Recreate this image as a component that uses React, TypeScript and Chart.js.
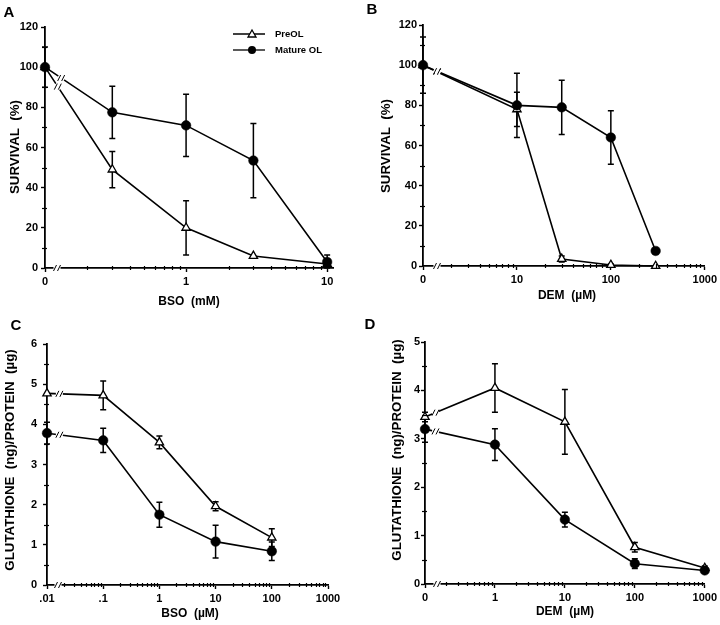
import React, { useEffect, useRef } from "react";
import { Chart, registerables } from "chart.js";

Chart.register(...registerables);

// ---------------- Data ----------------
// Panel A: survival (%) vs BSO (mM)
const aDoses = [0, 0.3, 1, 3, 10];
const aPreOL = [100, 49, 20, 6, 2];
const aPreOLErr = [0, 9, 13.5, 0, 0];
const aMature = [100, 77.5, 71, 53.5, 3];
const aMatureErr = [10, 13, 15.5, 18.5, 3.5];
const aXTickValues = [0, 1, 10];
const aXTickLabels = ["0", "1", "10"];
const aYTickValues = [0, 20, 40, 60, 80, 100, 120];

// Panel B: survival (%) vs DEM (µM)
const bDoses = [0, 10, 30, 100, 300];
const bPreOL = [100, 78, 3.5, 0.5, 0];
const bPreOLErr = [0, 8.5, 1.5, 0.5, 0];
const bMature = [100, 80, 79, 64, 7.5];
const bMatureErr = [14, 16, 13.5, 13.3, 1];
const bXTickValues = [0, 10, 100, 1000];
const bXTickLabels = ["0", "10", "100", "1000"];
const bYTickValues = [0, 20, 40, 60, 80, 100, 120];

// Panel C: glutathione (ng)/protein (µg) vs BSO (µM)
const cDoses = [0.01, 0.1, 1, 10, 100];
const cPreOL = [4.77, 4.72, 3.55, 1.96, 1.18];
const cPreOLErr = [0, 0.36, 0.16, 0.11, 0.22];
const cMature = [3.78, 3.6, 1.75, 1.08, 0.84];
const cMatureErr = [0.27, 0.3, 0.31, 0.41, 0.23];
const cXTickValues = [0.01, 0.1, 1, 10, 100, 1000];
const cXTickLabels = [".01", ".1", "1", "10", "100", "1000"];
const cYTickValues = [0, 1, 2, 3, 4, 5, 6];

// Panel D: glutathione (ng)/protein (µg) vs DEM (µM)
const dDoses = [0, 1, 10, 100, 1000];
const dPreOL = [3.45, 4.05, 3.35, 0.76, 0.33];
const dPreOLErr = [0.1, 0.5, 0.67, 0.1, 0.04];
const dMature = [3.2, 2.88, 1.33, 0.42, 0.28];
const dMatureErr = [0.27, 0.33, 0.15, 0.1, 0.04];
const dXTickValues = [0, 1, 10, 100, 1000];
const dXTickLabels = ["0", "1", "10", "100", "1000"];
const dYTickValues = [0, 1, 2, 3, 4, 5];

const seriesNames = ["PreOL", "Mature OL"];

// ---------------- Layout / style ----------------
const FONT = '"Liberation Sans", Arial, Helvetica, sans-serif';

type Panel = {
  letter: string;
  left: number;
  top: number;
  w: number;
  h: number;
  chartLeft: number;
  chartTop: number;
  chartRight: number;
  chartBottom: number;
  zeroPos: number;
  xMax: number;
  doses: number[];
  pre: number[];
  preErr: number[];
  mat: number[];
  matErr: number[];
  xTicks: number[];
  xLabels: string[];
  yTicks: number[];
  yMinorStep: number;
  yPad: number;
  axisBreakDx: number;
  lineBreakF: number[];
  yTitle: string;
  xTitle: string;
  letterPos: [number, number];
  yTitlePos: [number, number];
  xTitlePos: [number, number];
  legend: boolean;
};

const PANELS: Panel[] = [
  {
    letter: "A", left: 0, top: 0, w: 360, h: 312,
    chartLeft: 45, chartTop: 27, chartRight: 333, chartBottom: 268,
    zeroPos: 0.1, xMax: 11,
    doses: aDoses, pre: aPreOL, preErr: aPreOLErr, mat: aMature, matErr: aMatureErr,
    xTicks: aXTickValues, xLabels: aXTickLabels, yTicks: aYTickValues, yMinorStep: 10, yPad: 3,
    axisBreakDx: 12, lineBreakF: [0.19, 0.24],
    yTitle: "SURVIVAL  (%)", xTitle: "BSO  (mM)",
    letterPos: [9, 13], yTitlePos: [15, 147], xTitlePos: [189, 302], legend: true,
  },
  {
    letter: "B", left: 360, top: 0, w: 360, h: 312,
    chartLeft: 63, chartTop: 25, chartRight: 346, chartBottom: 266,
    zeroPos: 1, xMax: 1000,
    doses: bDoses, pre: bPreOL, preErr: bPreOLErr, mat: bMature, matErr: bMatureErr,
    xTicks: bXTickValues, xLabels: bXTickLabels, yTicks: bYTickValues, yMinorStep: 10, yPad: 2,
    axisBreakDx: 14, lineBreakF: [0.15, 0.15],
    yTitle: "SURVIVAL  (%)", xTitle: "DEM  (\u00b5M)",
    letterPos: [12, 10], yTitlePos: [26, 146], xTitlePos: [207, 296], legend: false,
  },
  {
    letter: "C", left: 0, top: 312, w: 360, h: 313,
    chartLeft: 47, chartTop: 32, chartRight: 328, chartBottom: 273,
    zeroPos: 0.01, xMax: 1000,
    doses: cDoses, pre: cPreOL, preErr: cPreOLErr, mat: cMature, matErr: cMatureErr,
    xTicks: cXTickValues, xLabels: cXTickLabels, yTicks: cYTickValues, yMinorStep: 0.5, yPad: 6,
    axisBreakDx: 11, lineBreakF: [0.22, 0.22],
    yTitle: "GLUTATHIONE  (ng)/PROTEIN  (\u00b5g)", xTitle: "BSO  (\u00b5M)",
    letterPos: [16, 14], yTitlePos: [10, 148], xTitlePos: [190, 302], legend: false,
  },
  {
    letter: "D", left: 360, top: 312, w: 360, h: 313,
    chartLeft: 65, chartTop: 30, chartRight: 347, chartBottom: 272,
    zeroPos: 0.1, xMax: 1000,
    doses: dDoses, pre: dPreOL, preErr: dPreOLErr, mat: dMature, matErr: dMatureErr,
    xTicks: dXTickValues, xLabels: dXTickLabels, yTicks: dYTickValues, yMinorStep: 0.5, yPad: 1,
    axisBreakDx: 12, lineBreakF: [0.15, 0.15],
    yTitle: "GLUTATHIONE  (ng)/PROTEIN  (\u00b5g)", xTitle: "DEM  (\u00b5M)",
    letterPos: [10, 13], yTitlePos: [37, 138], xTitlePos: [205, 300], legend: false,
  },
];

const xPos = (p: Panel, d: number) => (d === 0 ? p.zeroPos : d);

function logMinors(min: number, max: number): number[] {
  const out: number[] = [];
  const e0 = Math.floor(Math.log10(min));
  const e1 = Math.ceil(Math.log10(max));
  for (let e = e0; e <= e1; e++) {
    for (let k = 2; k <= 9; k++) {
      const v = k * Math.pow(10, e);
      if (v > min * 1.0001 && v < max * 0.9999) out.push(v);
    }
  }
  return out;
}

function drawSlashes(ctx: CanvasRenderingContext2D, x: number, y: number, angle: number) {
  ctx.save();
  ctx.translate(x, y);
  ctx.rotate(angle);
  ctx.fillStyle = "#fff";
  ctx.fillRect(-3.5, -2.5, 7, 5);
  ctx.restore();
  ctx.save();
  ctx.strokeStyle = "#000";
  ctx.lineWidth = 1;
  for (const dx of [-2, 2]) {
    ctx.beginPath();
    ctx.moveTo(x + dx - 1.5, y + 3);
    ctx.lineTo(x + dx + 1.5, y - 3);
    ctx.stroke();
  }
  ctx.restore();
}

function makePlugin(p: Panel) {
  return {
    id: "decor" + p.letter,
    beforeDatasetsDraw(chart: any) {
      const ctx: CanvasRenderingContext2D = chart.ctx;
      const xs = chart.scales.x;
      const ys = chart.scales.y;
      const sets = [
        { v: p.pre, e: p.preErr },
        { v: p.mat, e: p.matErr },
      ];
      ctx.save();
      ctx.strokeStyle = "#000";
      ctx.lineWidth = 1.5;
      for (const s of sets) {
        s.v.forEach((val, i) => {
          const err = s.e[i];
          if (!err) return;
          const px = xs.getPixelForValue(xPos(p, p.doses[i]));
          const y1 = ys.getPixelForValue(val + err);
          const y2 = ys.getPixelForValue(Math.max(0, val - err));
          ctx.beginPath();
          ctx.moveTo(px, y1);
          ctx.lineTo(px, y2);
          ctx.moveTo(px - 3, y1);
          ctx.lineTo(px + 3, y1);
          ctx.moveTo(px - 3, y2);
          ctx.lineTo(px + 3, y2);
          ctx.stroke();
        });
      }
      ctx.restore();
    },
    afterDatasetsDraw(chart: any) {
      const ctx: CanvasRenderingContext2D = chart.ctx;
      [0, 1].forEach((di) => {
        const meta = chart.getDatasetMeta(di);
        const a = meta.data[0];
        const b = meta.data[1];
        const f = p.lineBreakF[di];
        const x = a.x + (b.x - a.x) * f;
        const y = a.y + (b.y - a.y) * f;
        drawSlashes(ctx, x, y, Math.atan2(b.y - a.y, b.x - a.x));
      });
    },
    afterDraw(chart: any) {
      const ctx: CanvasRenderingContext2D = chart.ctx;
      const xs = chart.scales.x;
      const ys = chart.scales.y;
      const area = chart.chartArea;
      ctx.save();
      ctx.strokeStyle = "#000";
      ctx.lineWidth = 1.2;
      // minor x ticks
      for (const v of logMinors(p.zeroPos, p.xMax)) {
        const px = Math.round(xs.getPixelForValue(v)) + 0.5;
        if (px < area.left + p.axisBreakDx + 5) continue;
        ctx.beginPath();
        ctx.moveTo(px, area.bottom - 2);
        ctx.lineTo(px, area.bottom + 2);
        ctx.stroke();
      }
      // minor y ticks
      const yMax = ys.max;
      for (let v = p.yMinorStep; v < yMax; v += p.yMinorStep * 2) {
        const py = Math.round(ys.getPixelForValue(v)) + 0.5;
        ctx.beginPath();
        ctx.moveTo(area.left - 3, py);
        ctx.lineTo(area.left + 2, py);
        ctx.stroke();
      }
      ctx.restore();
      // axis break
      drawSlashes(ctx, area.left + p.axisBreakDx, area.bottom, 0);

      // texts
      ctx.save();
      ctx.fillStyle = "#000";
      ctx.textAlign = "center";
      ctx.textBaseline = "middle";
      ctx.font = `bold 15px ${FONT}`;
      ctx.fillText(p.letter, p.letterPos[0], p.letterPos[1]);
      ctx.font = `bold 12px ${FONT}`;
      ctx.fillText(p.xTitle, p.xTitlePos[0], p.xTitlePos[1]);
      ctx.save();
      ctx.translate(p.yTitlePos[0], p.yTitlePos[1]);
      ctx.rotate(-Math.PI / 2);
      ctx.font = `bold 13.3px ${FONT}`;
      ctx.fillText(p.yTitle, 0, 0);
      ctx.restore();
      ctx.restore();

      if (p.legend) {
        ctx.save();
        ctx.strokeStyle = "#000";
        ctx.lineWidth = 1.5;
        const rows = [34, 50];
        rows.forEach((ry, i) => {
          ctx.beginPath();
          ctx.moveTo(233, ry);
          ctx.lineTo(265, ry);
          ctx.stroke();
          if (i === 0) {
            ctx.beginPath();
            ctx.moveTo(252, ry - 4);
            ctx.lineTo(256, ry + 3);
            ctx.lineTo(248, ry + 3);
            ctx.closePath();
            ctx.fillStyle = "#fff";
            ctx.fill();
            ctx.lineWidth = 1.3;
            ctx.stroke();
          } else {
            ctx.beginPath();
            ctx.arc(252, ry, 4, 0, Math.PI * 2);
            ctx.fillStyle = "#000";
            ctx.fill();
          }
          ctx.fillStyle = "#000";
          ctx.font = `bold 9.5px ${FONT}`;
          ctx.textAlign = "left";
          ctx.textBaseline = "middle";
          ctx.fillText(seriesNames[i], 275, ry);
        });
        ctx.restore();
      }
    },
  };
}

function makeChart(canvas: HTMLCanvasElement, p: Panel) {
  const toPts = (vals: number[]) => p.doses.map((d, i) => ({ x: xPos(p, d), y: vals[i] }));
  const tickFont = { family: FONT, size: 11, weight: "bold" as const };
  return new Chart(canvas, {
    type: "line",
    data: {
      datasets: [
        {
          label: seriesNames[0],
          data: toPts(p.pre),
          order: 1,
          borderColor: "#000",
          borderWidth: 1.6,
          pointStyle: "triangle",
          pointRadius: 4.8,
          pointBackgroundColor: "#fff",
          pointBorderColor: "#000",
          pointBorderWidth: 1.3,
          tension: 0,
          clip: false as any,
        },
        {
          label: seriesNames[1],
          data: toPts(p.mat),
          order: 0,
          borderColor: "#000",
          borderWidth: 1.6,
          pointStyle: "circle",
          pointRadius: 4.8,
          pointBackgroundColor: "#000",
          pointBorderColor: "#000",
          pointBorderWidth: 0.5,
          tension: 0,
          clip: false as any,
        },
      ],
    },
    options: {
      animation: false,
      responsive: false,
      devicePixelRatio: 1,
      layout: { padding: { left: 0, top: p.chartTop, right: p.w - p.chartRight, bottom: 0 } },
      plugins: { legend: { display: false }, tooltip: { enabled: false } },
      scales: {
        x: {
          type: "logarithmic",
          min: p.zeroPos,
          max: p.xMax,
          bounds: "data",
          afterBuildTicks: (s: any) => {
            s.ticks = p.xTicks.map((v) => ({ value: xPos(p, v) }));
          },
          afterFit: (s: any) => {
            s.height = p.h - p.chartBottom;
          },
          ticks: {
            autoSkip: false,
            maxRotation: 0,
            minRotation: 0,
            padding: 3,
            color: "#000",
            font: tickFont,
            callback: (_v: any, i: number) => p.xLabels[i],
          },
          grid: {
            display: true,
            drawOnChartArea: false,
            drawTicks: true,
            tickLength: 4,
            tickColor: "#000",
            tickWidth: 1.4,
          },
          border: { display: true, color: "#000", width: 1.8 },
        },
        y: {
          type: "linear",
          min: 0,
          max: p.yTicks[p.yTicks.length - 1],
          afterBuildTicks: (s: any) => {
            s.ticks = p.yTicks.map((v) => ({ value: v }));
          },
          afterFit: (s: any) => {
            s.width = p.chartLeft;
          },
          ticks: {
            padding: p.yPad,
            color: "#000",
            font: tickFont,
            callback: (v: any) => String(v),
          },
          grid: {
            display: true,
            drawOnChartArea: false,
            drawTicks: true,
            tickLength: 4,
            tickColor: "#000",
            tickWidth: 1.4,
          },
          border: { display: true, color: "#000", width: 1.8 },
        },
      },
    } as any,
    plugins: [makePlugin(p)],
  });
}

export default function App() {
  const r0 = useRef<HTMLCanvasElement>(null);
  const r1 = useRef<HTMLCanvasElement>(null);
  const r2 = useRef<HTMLCanvasElement>(null);
  const r3 = useRef<HTMLCanvasElement>(null);
  const refs = [r0, r1, r2, r3];

  useEffect(() => {
    const charts = PANELS.map((p, i) => makeChart(refs[i].current as HTMLCanvasElement, p));
    return () => charts.forEach((c) => c.destroy());
  }, []);

  return (
    <div style={{ position: "absolute", left: 0, top: 0, width: 720, height: 625, background: "#fff" }}>
      {PANELS.map((p, i) => (
        <canvas
          key={p.letter}
          ref={refs[i]}
          width={p.w}
          height={p.h}
          style={{ position: "absolute", left: p.left, top: p.top, width: p.w, height: p.h }}
        />
      ))}
    </div>
  );
}
